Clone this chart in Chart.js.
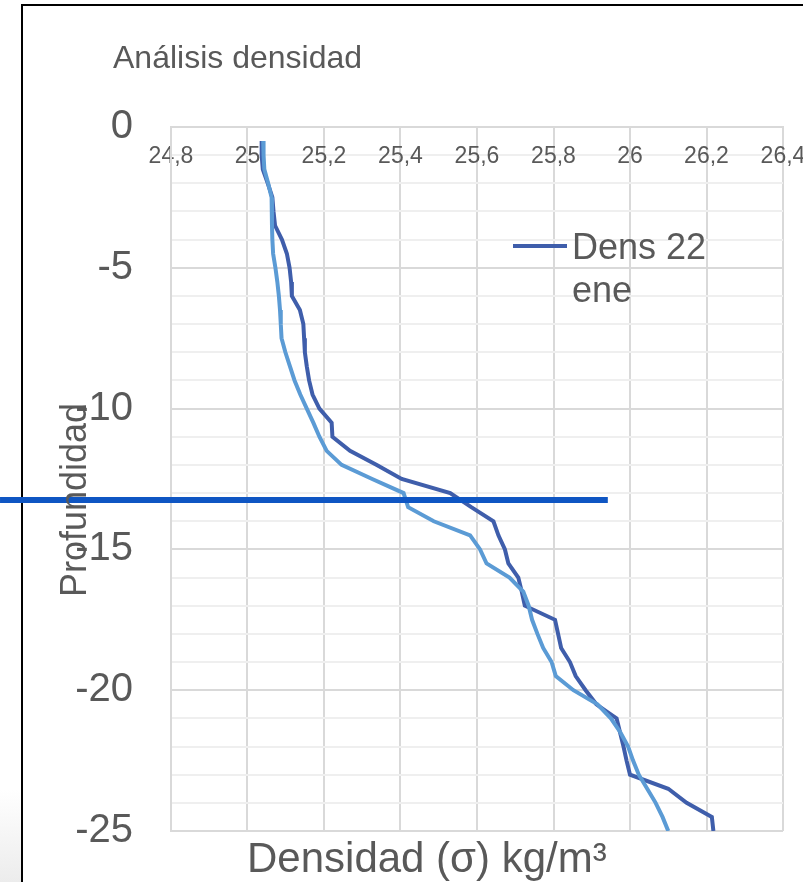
<!DOCTYPE html>
<html lang="es">
<head>
<meta charset="utf-8">
<title>Análisis densidad</title>
<script src="https://cdn.jsdelivr.net/npm/chart.js@4.4.1/dist/chart.umd.min.js"></script>
<style>
    html, body { margin: 0; padding: 0; background: #fff; overflow: hidden; }
    #wrap { position: relative; width: 803px; height: 882px; }
    #frame { position: absolute; left: 21px; top: 4px; width: 900px; height: 1000px; border: 2px solid #000; box-sizing: border-box; }
    #shade { position: absolute; left: 0; top: 790px; width: 21px; height: 92px; background: linear-gradient(to bottom, #fff, #ececec); }
    #density-chart { position: absolute; left: 0; top: 0; }
</style>
</head>
<body>
<div id="wrap">
    <div id="shade"></div>
    <div id="frame"></div>
    <canvas id="density-chart" width="803" height="882"></canvas>
</div>
<script>
// Texts
const chartTitle = 'Análisis densidad';
const xTitle = 'Densidad (σ) kg/m³';
const yTitle = 'Profundidad';
const legendLines = ['Dens 22', 'ene'];

// Depth (m) of every sample
const depthM = [
    -0.5, -1, -1.5, -2, -2.5, -3, -3.5, -4, -4.5, -5,
    -5.5, -6, -6.5, -7, -7.5, -8, -8.5, -9, -9.5, -10,
    -10.5, -11, -11.5, -12, -12.5, -13, -13.5, -14, -14.5, -15,
    -15.5, -16, -16.5, -17, -17.5, -18, -18.5, -19, -19.5, -20,
    -20.5, -21, -21.5, -22, -22.5, -23, -23.5, -24, -24.5, -25
];

// Dens 22 ene (dark blue)
const densEne22 = [
    25.037, 25.037, 25.040, 25.053, 25.065, 25.068, 25.072, 25.090, 25.103, 25.110,
    25.114, 25.116, 25.137, 25.146, 25.148, 25.150, 25.155, 25.161, 25.170, 25.188,
    25.220, 25.222, 25.268, 25.338, 25.403, 25.530, 25.585, 25.643, 25.656, 25.673,
    25.682, 25.708, 25.717, 25.725, 25.804, 25.812, 25.820, 25.843, 25.858, 25.884,
    25.912, 25.965, 25.974, 25.983, 25.991, 26.000, 26.100, 26.148, 26.214, 26.218
];

// Second profile (light blue, not in legend)
const densSecond = [
    25.041, 25.042, 25.044, 25.054, 25.063, 25.064, 25.064, 25.065, 25.067, 25.073,
    25.078, 25.082, 25.085, 25.087, 25.089, 25.099, 25.111, 25.123, 25.138, 25.155,
    25.172, 25.188, 25.207, 25.246, 25.326, 25.408, 25.420, 25.487, 25.582, 25.608,
    25.625, 25.685, 25.721, 25.735, 25.744, 25.758, 25.773, 25.795, 25.806, 25.852,
    25.915, 25.950, 25.975, 25.995, 26.008, 26.023, 26.045, 26.067, 26.085, 26.100
];

// Highlighted depth line (drawn over the figure)
const markerDepth = [-13.25, -13.25];
const markerDens = [24.353, 25.942];

// Axis ranges
const xRange = [24.8, 26.4];
const yRange = [-25, 0];

const TEXT = '#595959';
const DARK = '#3F5EAB';
const LIGHT = '#5B9BD5';
const MARKER = '#0F56C3';
const FONT = '"Liberation Sans", Arial, sans-serif';

Chart.defaults.font.family = FONT;
Chart.defaults.color = TEXT;

function toPoints(xs, ys) {
    return xs.map((x, i) => ({ x: x, y: ys[i] }));
}

/**
 * Title, axis titles and the wrapped legend
 */
const decorPlugin = {
    id: 'decor',
    afterDraw(chart) {
        const { ctx, chartArea } = chart;
        ctx.save();
        ctx.fillStyle = TEXT;
        ctx.textBaseline = 'alphabetic';

        ctx.font = `32px ${FONT}`;
        ctx.textAlign = 'left';
        ctx.fillText(chartTitle, 113, 68);

        ctx.font = `42px ${FONT}`;
        ctx.fillText(xTitle, 247, 872);

        ctx.save();
        ctx.font = `36px ${FONT}`;
        ctx.translate(86, 500);
        ctx.rotate(-Math.PI / 2);
        ctx.textAlign = 'center';
        ctx.fillText(yTitle, 0, 0);
        ctx.restore();

        // legend inside the plot
        const lx = chartArea.right - 270;
        const ly = 246;
        ctx.strokeStyle = chart.data.datasets[2].borderColor;
        ctx.lineWidth = 4;
        ctx.beginPath();
        ctx.moveTo(lx, ly);
        ctx.lineTo(lx + 54, ly);
        ctx.stroke();
        ctx.font = `36px ${FONT}`;
        legendLines.forEach((line, i) => {
            ctx.fillText(line, lx + 59, ly + 13 + i * 43);
        });
        ctx.restore();
    }
};

const ctx = document.getElementById('density-chart').getContext('2d');
new Chart(ctx, {
    type: 'scatter',
    data: {
        datasets: [
            {
                label: 'marker',
                data: toPoints(markerDens, markerDepth),
                showLine: true,
                borderColor: MARKER,
                borderWidth: 6,
                pointRadius: 0,
                clip: false,
                order: 0
            },
            {
                label: 'Dens 2',
                data: toPoints(densSecond, depthM),
                showLine: true,
                borderColor: LIGHT,
                borderWidth: 4,
                pointRadius: 0,
                order: 1
            },
            {
                label: 'Dens 22 ene',
                data: toPoints(densEne22, depthM),
                showLine: true,
                borderColor: DARK,
                borderWidth: 4,
                pointRadius: 0,
                order: 2
            }
        ]
    },
    options: {
        responsive: false,
        animation: false,
        layout: { padding: { left: 0, right: 20, top: 127, bottom: 51 } },
        plugins: {
            legend: { display: false },
            title: { display: false },
            tooltip: { enabled: false }
        },
        scales: {
            x: {
                type: 'linear',
                position: 'top',
                min: xRange[0],
                max: xRange[1],
                afterFit(scale) {
                    scale.height = 0;
                    scale.paddingLeft = 0;
                    scale.paddingRight = 0;
                },
                ticks: {
                    stepSize: 0.2,
                    autoSkip: false,
                    maxRotation: 0,
                    mirror: true,
                    padding: 16,
                    font: { size: 23 },
                    color: TEXT,
                    callback: v => String(Math.round(v * 10) / 10).replace('.', ',')
                },
                grid: { color: '#d9d9d9', lineWidth: 2, drawTicks: false },
                border: { color: '#d9d9d9', width: 2 }
            },
            y: {
                type: 'linear',
                position: 'left',
                min: yRange[0],
                max: yRange[1],
                afterFit(scale) {
                    scale.width = 171;
                    scale.paddingTop = 0;
                    scale.paddingBottom = 0;
                },
                ticks: {
                    stepSize: 1,
                    autoSkip: false,
                    padding: 38,
                    font: { size: 40 },
                    color: TEXT,
                    callback: v => (v % 5 === 0 ? String(v) : '')
                },
                grid: {
                    lineWidth: 2,
                    drawTicks: false,
                    color: c => (c.tick && c.tick.value % 5 === 0 ? '#d9d9d9' : '#efefef')
                },
                border: { color: '#d9d9d9', width: 2 }
            }
        }
    },
    plugins: [decorPlugin]
});
</script>
</body>
</html>
